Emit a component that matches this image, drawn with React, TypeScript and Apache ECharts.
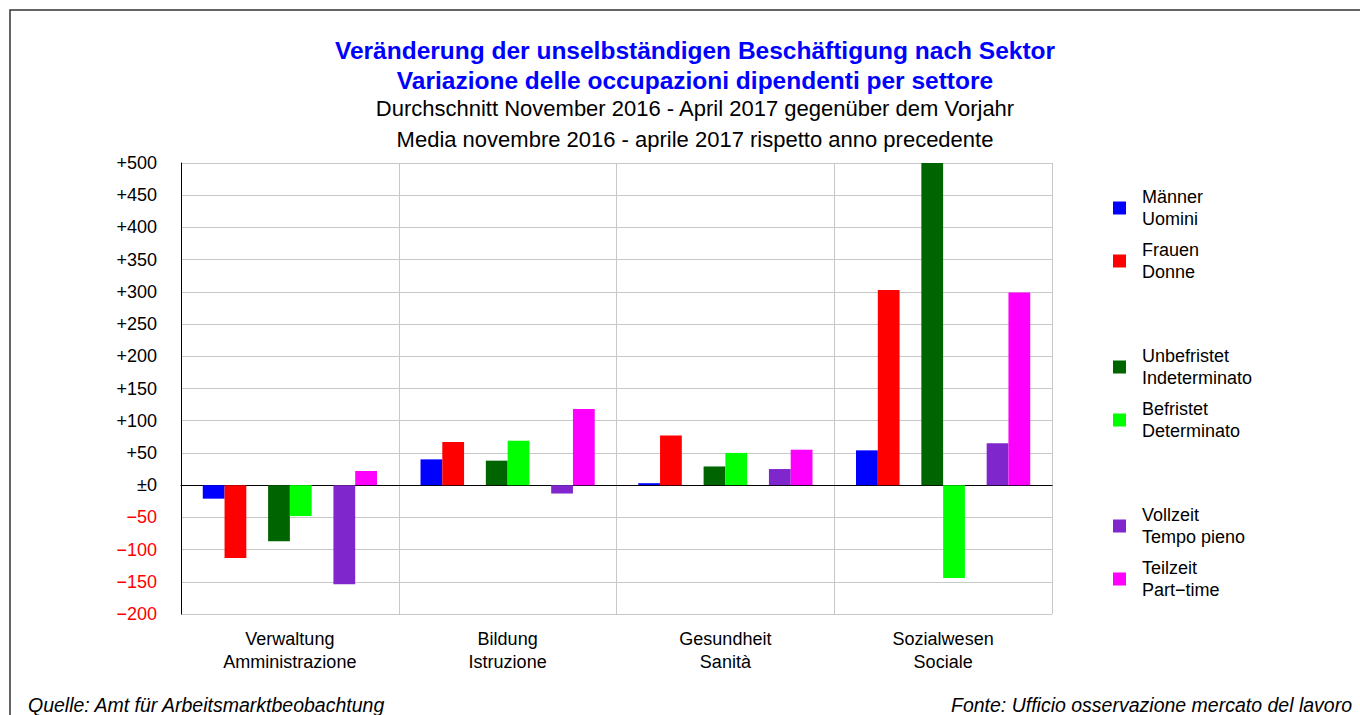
import React, { useEffect, useRef } from "react";
import * as echarts from "echarts";

const categories = [
  "Verwaltung\nAmministrazione",
  "Bildung\nIstruzione",
  "Gesundheit\nSanità",
  "Sozialwesen\nSociale",
];

const maenner = [-21, 40, 3, 54];
const frauen = [-113, 67, 77, 303];
const unbefristet = [-87, 38, 29, 500];
const befristet = [-48, 69, 50, -144];
const vollzeit = [-154, -13, 25, 65];
const teilzeit = [22, 118, 55, 299];

const seriesNames = [
  "Männer\nUomini",
  "Frauen\nDonne",
  "\u00a0\n\u00a0",
  "Unbefristet\nIndeterminato",
  "Befristet\nDeterminato",
  "\u00a0\u00a0\n\u00a0\u00a0",
  "Vollzeit\nTempo pieno",
  "Teilzeit\nPart\u2212time",
];
const seriesColors = ["#0000ff", "#ff0000", "transparent", "#006400", "#00ff00", "transparent", "#7f27cc", "#ff00ff"];
const empty = [null, null, null, null];
const seriesData = [maenner, frauen, empty, unbefristet, befristet, empty, vollzeit, teilzeit];

const yTicks = { min: -200, max: 500, interval: 50 };

const FONT = "'Liberation Sans', Arial, Helvetica, sans-serif";

export default function App() {
  const ref = useRef<HTMLDivElement>(null);
  useEffect(() => {
    if (!ref.current) return;
    const chart = echarts.init(ref.current, null, { renderer: "svg" });
    chart.setOption({
      animation: false,
      backgroundColor: "#ffffff",
      textStyle: { fontFamily: FONT },
      title: [
        {
          text: "Veränderung der unselbständigen Beschäftigung nach Sektor\nVariazione delle occupazioni dipendenti per settore",
          left: 690,
          top: 30,
          textAlign: "center",
          textStyle: { color: "#0000ff", fontWeight: "bold", fontSize: 24.5, lineHeight: 30, fontFamily: FONT },
        },
        {
          text: "Durchschnitt November 2016 - April 2017 gegenüber dem Vorjahr\nMedia novembre 2016 - aprile 2017 rispetto anno precedente",
          left: 690,
          top: 88,
          textAlign: "center",
          textStyle: { color: "#000000", fontWeight: "normal", fontSize: 22, lineHeight: 31, fontFamily: FONT },
        },
      ],
      legend: {
        orient: "vertical",
        left: 1108,
        top: 181,
        itemWidth: 13,
        itemHeight: 13,
        itemGap: 9,
        icon: "rect",
        selectedMode: false,
        data: seriesNames.map((n, i) =>
          seriesColors[i] === "transparent" ? { name: n, icon: "none" } : { name: n }
        ),
        textStyle: { fontSize: 18, lineHeight: 22, color: "#000", fontFamily: FONT, padding: [0, 0, 0, 11] },
      },
      grid: { left: 181, right: 308, top: 163, bottom: 101, containLabel: false },
      xAxis: {
        type: "category",
        data: categories,
        axisLine: { onZero: true, lineStyle: { color: "#000", width: 1.2 } },
        axisTick: { show: false },
        axisLabel: {
          interval: 0,
          fontSize: 18,
          lineHeight: 23,
          color: "#000",
          fontFamily: FONT,
          margin: 13,
        },
        splitLine: { show: true, lineStyle: { color: "#c8c8c8", width: 1 } },
      },
      yAxis: {
        type: "value",
        min: yTicks.min,
        max: yTicks.max,
        interval: yTicks.interval,
        axisLine: { show: true, lineStyle: { color: "#000", width: 1 } },
        axisTick: { show: false },
        splitLine: { show: true, lineStyle: { color: "#c8c8c8", width: 1 } },
        axisLabel: {
          fontSize: 18,
          margin: 24,
          fontFamily: FONT,
          formatter: (v: number) => {
            if (v > 0) return "{p|+" + v + "}";
            if (v === 0) return "{p|\u00b10}";
            return "{n|\u2212" + Math.abs(v) + "}";
          },
          rich: {
            p: { color: "#000", fontSize: 18, fontFamily: FONT },
            n: { color: "#ff0000", fontSize: 18, fontFamily: FONT },
          },
        },
      },
      series: seriesNames.map((n, i) => ({
        name: n,
        type: "bar",
        data: seriesData[i],
        barGap: "0%",
        barCategoryGap: "20%",
        itemStyle: { color: seriesColors[i] },
        emphasis: { disabled: true },
      })),
      graphic: [
        {
          type: "rect",
          shape: { x: 10, y: 10, width: 1380, height: 760 },
          style: { fill: "none", stroke: "#333", lineWidth: 1.5 },
          silent: true,
          z: -10,
        },
        {
          type: "text",
          left: 28,
          top: 695,
          style: { text: "Quelle: Amt für Arbeitsmarktbeobachtung", font: "italic 19.5px " + FONT, fill: "#000" },
        },
        {
          type: "text",
          right: 8,
          top: 695,
          style: { text: "Fonte: Ufficio osservazione mercato del lavoro", font: "italic 19.5px " + FONT, fill: "#000" },
        },
      ],
    });
    return () => chart.dispose();
  }, []);
  return (
    <div
      ref={ref}
      style={{ position: "fixed", left: 0, top: 0, width: 1360, height: 715 }}
    />
  );
}
